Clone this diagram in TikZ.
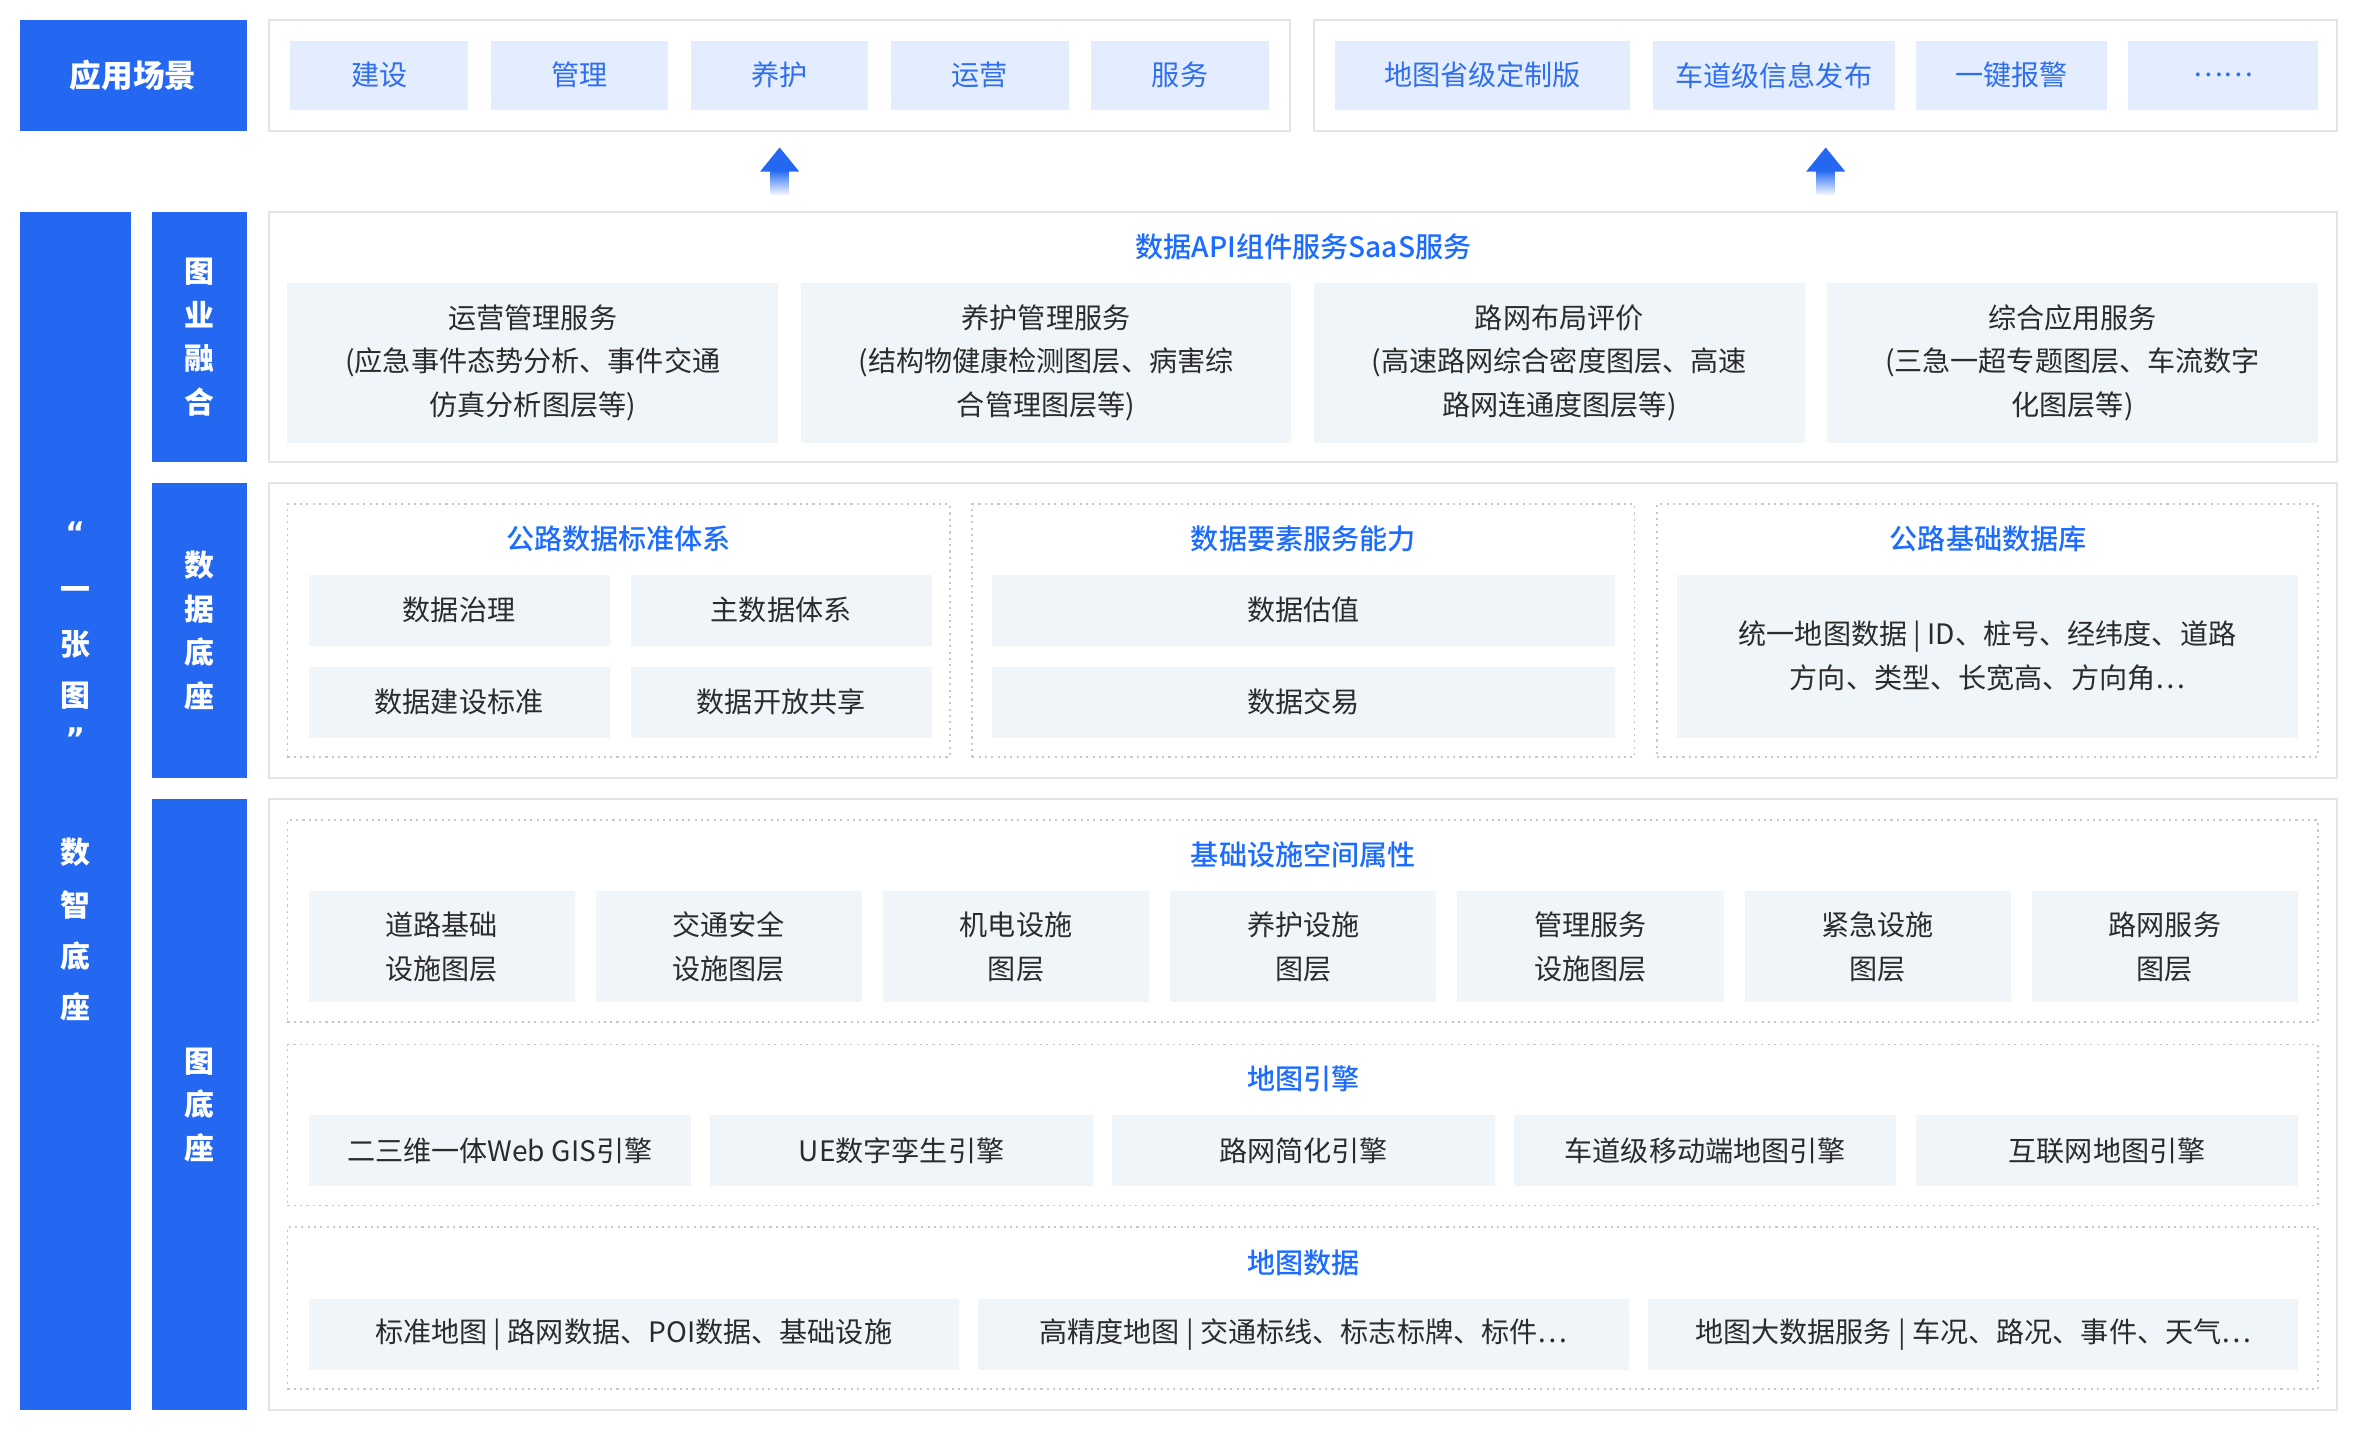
\documentclass[tikz,border=0pt]{standalone}
\usepackage{fontspec}
\setmainfont{Noto Sans CJK SC}
\newfontfamily\medfont{Noto Sans CJK SC Medium}
\newfontfamily\quotefont{DejaVu Sans}

\definecolor{myblue}{HTML}{2468F2}
\definecolor{chipfill}{HTML}{E3EDFD}
\definecolor{chipink}{HTML}{2F6FEF}
\definecolor{cardfill}{HTML}{F0F5FA}
\definecolor{framegray}{HTML}{E4E4E4}
\definecolor{dotgray}{HTML}{C4C6D4}
\definecolor{ink}{HTML}{2B2B2B}
\definecolor{titleblue}{HTML}{1C6CFF}

\begin{document}
\begin{tikzpicture}[
    x=0.1505mm, y=-0.1505mm,
    every node/.style={inner sep=0pt, outer sep=0pt, text=ink,
        font=\fontsize{8}{12.4}\selectfont, align=center},
    cell/.style n args={4}{at={({(#1+#3)/2},{(#2+#4)/2})},
        minimum width={(#3-#1)*0.1505mm}, minimum height={(#4-#2)*0.1505mm}},
    bluebar/.style={fill=myblue, text=white,
        font=\fontsize{8.5}{12.4}\selectfont\bfseries},
    frame/.style={draw=framegray, line width=0.6pt, fill=white},
    dotbox/.style={draw=dotgray, line width=0.5pt, dash pattern=on 0.6pt off 1.2pt},
    chip/.style={fill=chipfill, text=chipink},
    card/.style={fill=cardfill},
    title/.style={text=titleblue, font=\fontsize{8}{12.4}\selectfont\medfont}
]
\useasboundingbox (0,0) rectangle (1568,951);

% application scenes
\node[bluebar, cell={13}{13}{164}{87}, font=\fontsize{9}{12}\selectfont\bfseries] (scene) {应用场景};
\node[frame, cell={179}{13}{857}{87}] (sceneL) {};
\node[frame, cell={873}{13}{1553}{87}] (sceneR) {};
\foreach \t/\a/\b [count=\i] in {建设/193/311, 管理/326/444, 养护/459/577, 运营/592/710, 服务/725/843}
    \node[chip, cell={\a}{27}{\b}{73}] (chipL\i) {\t};
\foreach \t/\a/\b [count=\i] in {地图省级定制版/887/1083, 车道级信息发布/1098/1259, 一键报警/1273/1400, ……/1414/1540}
    \node[chip, cell={\a}{27}{\b}{73}] (chipR\i) {\t};

% up arrows
\foreach \x/\n in {518/L, 1213/R} {
    \coordinate (tip\n) at (\x,98);
    \shade[top color=myblue, bottom color=myblue!8] (\x-6,113) rectangle (\x+6,129);
    \fill[myblue] (\x-13,114) -- (tip\n) -- (\x+13,114) -- cycle;
}

% side bars
\node[bluebar, cell={13}{141}{87}{937}] (sidebar) {};
\foreach \c/\y [count=\i] in {{\quotefont “}/354, 一/394, 张/428, 图/462, {\quotefont ”}/491, 数/566, 智/601, 底/635, 座/669}
    \node[text=white, font=\fontsize{8.5}{12}\selectfont\bfseries] (side\i) at (50,\y) {\c};
\node[bluebar, cell={101}{141}{164}{307}] (fuse) {图\\业\\融\\合};
\node[bluebar, cell={101}{321}{164}{517}] (dbase) {数\\据\\底\\座};
\node[bluebar, cell={101}{531}{164}{937}] (mbase) {图\\底\\座};

% map-business fusion
\node[frame, cell={179}{141}{1553}{307}] (svc) {};
\node[title] (svcT) at (866,164) {数据API组件服务SaaS服务};
\foreach \t [count=\i] in {{运营管理服务\\(应急事件态势分析、事件交通\\仿真分析图层等)},
                           {养护管理服务\\(结构物健康检测图层、病害综\\合管理图层等)},
                           {路网布局评价\\(高速路网综合密度图层、高速\\路网连通度图层等)},
                           {综合应用服务\\(三急一超专题图层、车流数字\\化图层等)}} {
    \pgfmathsetmacro\a{191+(\i-1)*341}
    \node[card, cell={\a}{188}{\a+326}{294}] (svc\i) {\t};
}

% data base
\node[frame, cell={179}{321}{1553}{517}] (data) {};
\node[dotbox, cell={191}{335}{631}{503}] (std) {};
\node[dotbox, cell={646}{335}{1086}{503}] (elem) {};
\node[dotbox, cell={1101}{335}{1540}{503}] (road) {};
\node[title] (stdT) at (411,358) {公路数据标准体系};
\node[title] (elemT) at (866,358) {数据要素服务能力};
\node[title] (roadT) at (1321,358) {公路基础数据库};
\node[card, cell={205}{382}{405}{429}] (std1) {数据治理};
\node[card, cell={419}{382}{619}{429}] (std2) {主数据体系};
\node[card, cell={205}{443}{405}{490}] (std3) {数据建设标准};
\node[card, cell={419}{443}{619}{490}] (std4) {数据开放共享};
\node[card, cell={659}{382}{1073}{429}] (elem1) {数据估值};
\node[card, cell={659}{443}{1073}{490}] (elem2) {数据交易};
\node[card, cell={1114}{382}{1527}{490}] (road1) {统一地图数据 | ID、桩号、经纬度、道路\\方向、类型、长宽高、方向角\ldots};

% map base
\node[frame, cell={179}{531}{1553}{937}] (map) {};
\node[dotbox, cell={191}{545}{1540}{679}] (fac) {};
\node[dotbox, cell={191}{694}{1540}{801}] (eng) {};
\node[dotbox, cell={191}{815}{1540}{923}] (mdat) {};
\node[title] (facT) at (866,568) {基础设施空间属性};
\node[title] (engT) at (866,717) {地图引擎};
\node[title] (mdatT) at (866,839) {地图数据};
\foreach \t [count=\i] in {{道路基础\\设施图层}, {交通安全\\设施图层}, {机电设施\\图层}, {养护设施\\图层},
                           {管理服务\\设施图层}, {紧急设施\\图层}, {路网服务\\图层}} {
    \pgfmathsetmacro\a{205+(\i-1)*190.83}
    \node[card, cell={\a}{592}{\a+176.83}{666}] (fac\i) {\t};
}
\foreach \t [count=\i] in {二三维一体Web GIS引擎, UE数字孪生引擎, 路网简化引擎, 车道级移动端地图引擎, 互联网地图引擎} {
    \pgfmathsetmacro\a{205+(\i-1)*267}
    \node[card, cell={\a}{741}{\a+254}{788}] (eng\i) {\t};
}
\foreach \t [count=\i] in {{标准地图 | 路网数据、POI数据、基础设施}, {高精度地图 | 交通标线、标志标牌、标件\ldots},
                           {地图大数据服务 | 车况、路况、事件、天气\ldots}} {
    \pgfmathsetmacro\a{205+(\i-1)*445}
    \node[card, cell={\a}{863}{\a+432}{910}] (mdat\i) {\t};
}
\end{tikzpicture}
\end{document}
